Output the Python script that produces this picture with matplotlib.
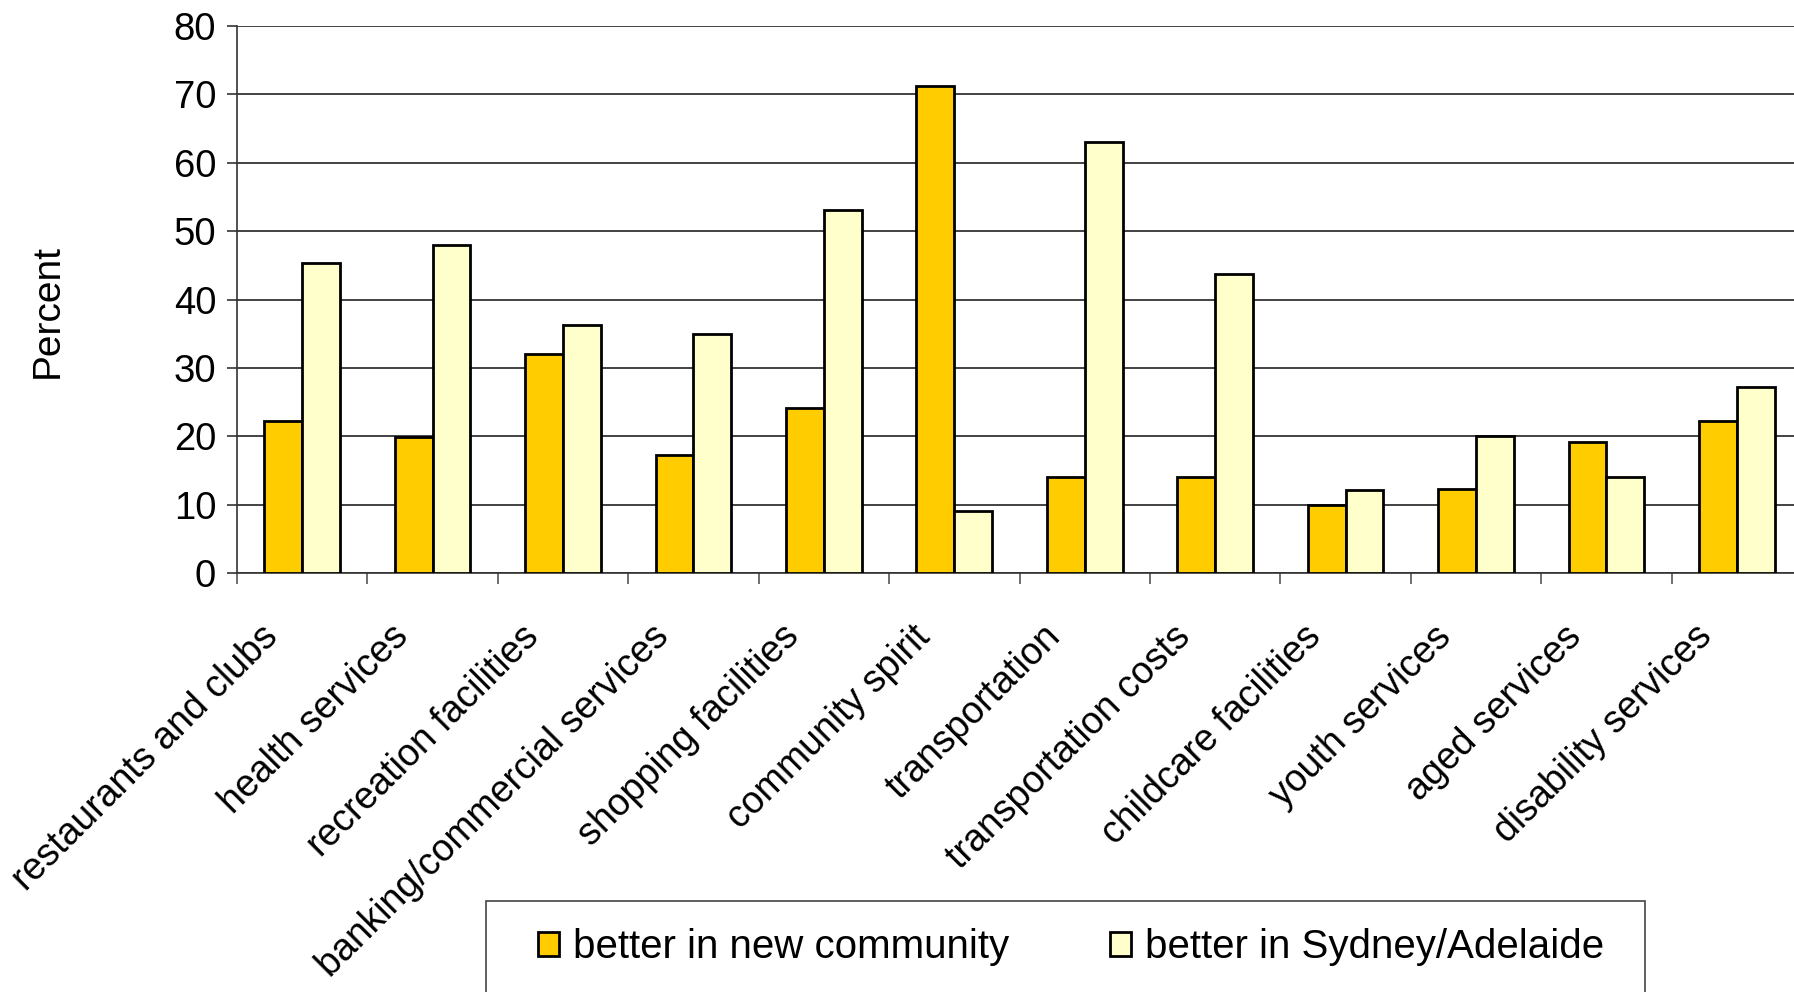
import matplotlib
matplotlib.use('Agg')
import matplotlib.pyplot as plt
from matplotlib.patches import Rectangle
import matplotlib.transforms as mtransforms
import numpy as np

plt.rcParams['font.family'] = ['Liberation Sans', 'DejaVu Sans']

categories = ["restaurants and clubs", "health services", "recreation facilities",
              "banking/commercial services", "shopping facilities", "community spirit",
              "transportation", "transportation costs", "childcare facilities",
              "youth services", "aged services", "disability services"]
better_new = [22.2, 19.9, 32.1, 17.3, 24.2, 71.2, 14.1, 14.0, 10.0, 12.3, 19.1, 22.3]
better_city = [45.3, 48.0, 36.2, 35.0, 53.1, 9.0, 63.0, 43.8, 12.2, 20.0, 14.1, 27.2]
series_names = ["better in new community", "better in Sydney/Adelaide"]
yticks = [0, 10, 20, 30, 40, 50, 60, 70, 80]

W, H = 1794, 992
fig = plt.figure(figsize=(W/100, H/100), dpi=100)
ax = fig.add_axes([237/W, 1-573/H, (1802-237)/W, (573-26)/H])

x = np.arange(len(categories))
bw = 0.29
b1 = ax.bar(x - bw/2, better_new, bw, color='#FFCC00', edgecolor='black', linewidth=2.0,
            label=series_names[0], zorder=3)
b2 = ax.bar(x + bw/2, better_city, bw, color='#FFFFCC', edgecolor='black', linewidth=2.0,
            label=series_names[1], zorder=3)

ax.set_xlim(-0.5, len(categories) - 0.5)
ax.set_ylim(0, 80)
ax.set_yticks(yticks)
ax.yaxis.grid(True, color='#222222', linewidth=1.2, zorder=0)
ax.tick_params(axis='y', labelsize=27.5, length=7, width=1.2, pad=8, color='#333333')

# boundary ticks (no labels) and centred labels
ax.set_xticks(np.arange(-0.5, len(categories), 1))
ax.set_xticklabels([])
ax.tick_params(axis='x', which='major', length=8, width=1.2, color='#555555')
ax.set_xticks(x, minor=True)
ax.set_xticklabels(categories, minor=True, rotation=45, ha='right', va='center',
                   rotation_mode='anchor', fontsize=27)
ax.tick_params(axis='x', which='minor', length=0, pad=42)
off = mtransforms.ScaledTranslation(-30/100, 0, fig.dpi_scale_trans)
for lab in ax.get_xticklabels(minor=True):
    lab.set_transform(lab.get_transform() + off)

for s in ['top', 'right']:
    ax.spines[s].set_visible(False)
ax.spines['left'].set_color('#333333')
ax.spines['bottom'].set_color('#333333')
ax.spines['left'].set_linewidth(1.2)
ax.spines['bottom'].set_linewidth(1.2)

ax.set_ylabel("Percent", fontsize=28)
ax.yaxis.set_label_coords((66-237)/(1802-237), 0.479)

# legend box (clipped at bottom like the original)
fig.patches.append(Rectangle((486/W, -0.01), (1645-486)/W, (1-901/H) + 0.01,
                             transform=fig.transFigure, facecolor='white',
                             edgecolor='#444444', linewidth=1.2))
fig.legend(handles=[b1, b2], loc='center', bbox_to_anchor=(1071/W, 1-947/H),
           ncol=2, frameon=False, fontsize=29, handlelength=0.52, handleheight=0.55,
           handletextpad=0.35, columnspacing=2.5)

fig.savefig('out.png', dpi=100)
